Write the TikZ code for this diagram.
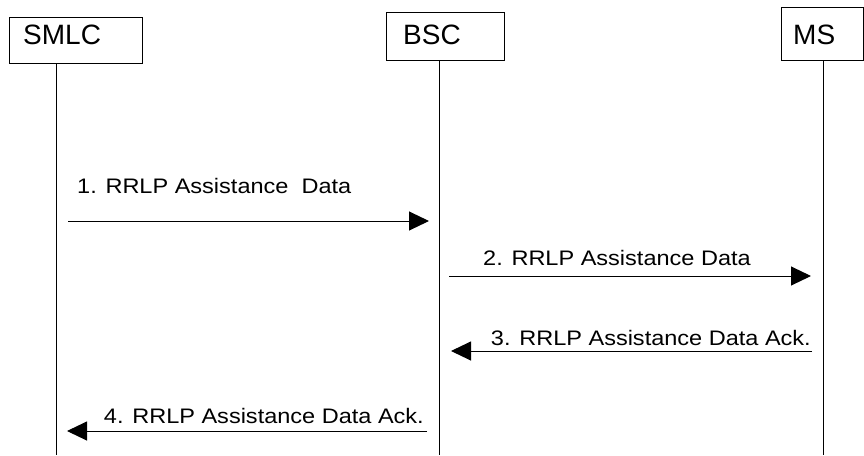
\documentclass[tikz,border=0pt]{standalone}
\usepackage{fontspec}
\setmainfont{Liberation Sans}
\newfontfamily\msgfont[FakeStretch=1.12]{Liberation Sans}
\usepackage{tikz}
\usetikzlibrary{arrows.meta,positioning}
\tikzstyle{ent} = [rectangle, draw=black, line width=1pt, inner sep=0pt, anchor=north west]
\tikzstyle{ename} = [font=\fontsize{28pt}{30pt}\selectfont, inner sep=0pt]
\tikzstyle{lbl} = [font=\msgfont\fontsize{21pt}{23pt}\selectfont, inner sep=0pt]
\tikzstyle{life} = [black, line width=1pt]
\tikzstyle{msg} = [black, line width=1pt, -{Triangle[length=20pt,width=19pt]}]

\begin{document}
\begin{tikzpicture}
		[
			x=1pt, y=-1pt,
		]
		\useasboundingbox (0,0) rectangle (864,455);

		% entities
		\node[ent, minimum width=133pt, minimum height=46pt] (smlc) at (9,17) {};
		\node[ent, minimum width=118pt, minimum height=48pt] (bsc) at (386,12) {};
		\node[ent, minimum width=82pt, minimum height=53pt] (ms) at (781,7) {};
		\node[ename, anchor=base west] (smlct) at (23,44) {SMLC};
		\node[ename, anchor=base west] (bsct) at (403,44) {BSC};
		\node[ename, anchor=base west] (mst) at (793,44) {MS};

		% lifelines
		\coordinate (smlctop) at (56,63);
		\coordinate (smlcbot) at (56,455);
		\coordinate (bsctop) at (439,60);
		\coordinate (bscbot) at (439,455);
		\coordinate (mstop) at (823,60);
		\coordinate (msbot) at (823,455);
		\draw[life] (smlctop) -- (smlcbot);
		\draw[life] (bsctop) -- (bscbot);
		\draw[life] (mstop) -- (msbot);

		% messages
		\coordinate (a1) at (68,221);
		\coordinate (b1) at (429,221);
		\coordinate (a2) at (449,276);
		\coordinate (b2) at (811,276);
		\coordinate (a3) at (812,351);
		\coordinate (b3) at (451,351);
		\coordinate (a4) at (427,431);
		\coordinate (b4) at (67,431);
		\draw[msg] (a1) -- (b1);
		\draw[msg] (a2) -- (b2);
		\draw[msg] (a3) -- (b3);
		\draw[msg] (a4) -- (b4);

		\node[lbl, anchor=base west] (m1) at (77,193) {1. RRLP Assistance\ \ Data};
		\node[lbl, anchor=base west] (m2) at (483,265) {2. RRLP Assistance Data};
		\node[lbl, anchor=base east] (m3) at (811,345) {3. RRLP Assistance Data Ack.};
		\node[lbl, anchor=base east] (m4) at (424,423) {4. RRLP Assistance Data Ack.};
	\end{tikzpicture}
\end{document}
